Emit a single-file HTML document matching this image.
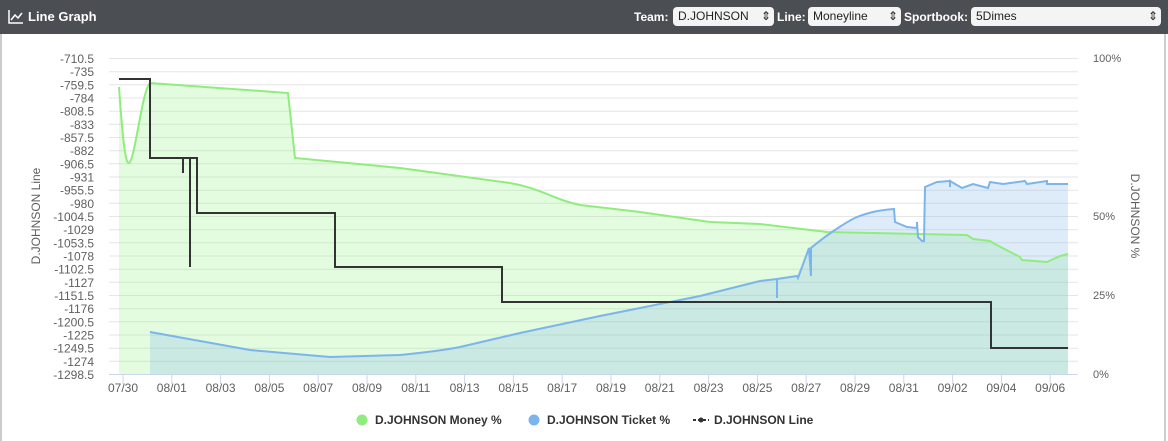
<!DOCTYPE html>
<html><head><meta charset="utf-8"><style>
body{margin:0;width:1168px;height:441px;background:#fff;font-family:"Liberation Sans",sans-serif;overflow:hidden}
.hdr{position:absolute;left:0;top:0;width:1168px;height:34px;background:#4b4e53;color:#fff;font-size:13px}
.sel{position:absolute;top:7px;height:19px;background:#f4f4f4;border-radius:4px;color:#222;font-size:12px;line-height:19px;padding-left:5px;box-sizing:border-box}
.lbl{position:absolute;top:10px;font-weight:bold;font-size:12px}
.frame{position:absolute;left:0;top:34px;width:1166px;height:407px;border-left:2px solid #ccc;border-right:2px solid #ccc;box-sizing:border-box}
</style></head><body>
<div class="hdr">
<svg width="16" height="14" style="position:absolute;left:8px;top:10px"><path d="M1,0 V13 H15" stroke="#fff" stroke-width="1.5" fill="none"/><path d="M3,10 L7,5 L10,8 L14,3" stroke="#fff" stroke-width="1.5" fill="none"/></svg>
<div style="position:absolute;left:28px;top:9px;font-weight:bold;font-size:13px">Line Graph</div>
<div class="lbl" style="left:634px">Team:</div>
<div class="sel" style="left:673px;width:101px">D.JOHNSON<span style="position:absolute;right:3px">⇕</span></div>
<div class="lbl" style="left:777px">Line:</div>
<div class="sel" style="left:808px;width:93px">Moneyline<span style="position:absolute;right:3px">⇕</span></div>
<div class="lbl" style="left:904px">Sportbook:</div>
<div class="sel" style="left:971px;width:190px">5Dimes<span style="position:absolute;right:3px">⇕</span></div>
</div>
<div class="frame"></div>
<svg width="1168" height="441" style="position:absolute;left:0;top:0" font-family="Liberation Sans, sans-serif">
<g stroke="#e6e6e6" stroke-width="1">
<line x1="109" x2="1078" y1="58.5" y2="58.5"/><line x1="109" x2="1078" y1="71.7" y2="71.7"/><line x1="109" x2="1078" y1="84.8" y2="84.8"/><line x1="109" x2="1078" y1="98" y2="98"/><line x1="109" x2="1078" y1="111.2" y2="111.2"/><line x1="109" x2="1078" y1="124.3" y2="124.3"/><line x1="109" x2="1078" y1="137.5" y2="137.5"/><line x1="109" x2="1078" y1="150.7" y2="150.7"/><line x1="109" x2="1078" y1="163.8" y2="163.8"/><line x1="109" x2="1078" y1="177" y2="177"/><line x1="109" x2="1078" y1="190.2" y2="190.2"/><line x1="109" x2="1078" y1="203.3" y2="203.3"/><line x1="109" x2="1078" y1="216.5" y2="216.5"/><line x1="109" x2="1078" y1="229.7" y2="229.7"/><line x1="109" x2="1078" y1="242.8" y2="242.8"/><line x1="109" x2="1078" y1="256" y2="256"/><line x1="109" x2="1078" y1="269.2" y2="269.2"/><line x1="109" x2="1078" y1="282.3" y2="282.3"/><line x1="109" x2="1078" y1="295.5" y2="295.5"/><line x1="109" x2="1078" y1="308.7" y2="308.7"/><line x1="109" x2="1078" y1="321.8" y2="321.8"/><line x1="109" x2="1078" y1="335" y2="335"/><line x1="109" x2="1078" y1="348.2" y2="348.2"/><line x1="109" x2="1078" y1="361.3" y2="361.3"/>
</g>
<path d="M119,87 C122,130 125,165 129,163 C135,160 142,90 150,83 L288,93 L295,158 L400,168 L510,183 C540,188 555,200 580,205 L640,212 L710,222 L760,224 L827,232 L967,235 L973,239 L990,241 L993,243 L1020,257 L1022,260 L1047,262 L1060,256 L1068,254 L1068,374 L119,374 Z" fill="rgba(144,238,126,0.25)"/>
<path d="M150,332 L250,350 L330,357 L400,355 C430,352 450,349 460,347 L520,333 L600,316 L700,296 L760,281 L797,276 L809,248 C830,232 850,220 857,217 C870,212 880,210 894,209 L895,222 L907,227 L917,228 L918,237 L922,241 L924,241 L925,187 L937,182 L950,181 L962,188 L973,184 L988,188 L990,182 L1003,184 L1025,181 L1027,184 L1047,181 L1047,184 L1068,184 L1068,374 L150,374 Z" fill="rgba(124,181,236,0.25)"/>
<path d="M119,87 C122,130 125,165 129,163 C135,160 142,90 150,83 L288,93 L295,158 L400,168 L510,183 C540,188 555,200 580,205 L640,212 L710,222 L760,224 L827,232 L967,235 L973,239 L990,241 L993,243 L1020,257 L1022,260 L1047,262 L1060,256 L1068,254" fill="none" stroke="#90ed7d" stroke-width="2"/>
<path d="M150,332 L250,350 L330,357 L400,355 C430,352 450,349 460,347 L520,333 L600,316 L700,296 L760,281 L777,279 L777,298 L777,279 L797,276 L798,278 L809,248 L811,276 L811,248 C830,232 850,220 857,217 C870,212 880,210 894,209 L895,222 L907,227 L917,228 L917,222 L918,237 L922,241 L924,241 L925,187 L937,182 L950,181 L950,187 L950,181 L962,188 L973,184 L988,188 L990,182 L1003,184 L1025,181 L1027,184 L1047,181 L1047,184 L1068,184" fill="none" stroke="#7cb5ec" stroke-width="2"/>
<path d="M119,79 L150,79 L150,158 L183,158 L183,173 L183,158 L190,158 L190,267 L190,158 L197,158 L197,213 L335,213 L335,267 L502,267 L502,302 L991,302 L991,348 L1068,348" fill="none" stroke="#333" stroke-width="2"/>
<line x1="109" x2="1078" y1="374.5" y2="374.5" stroke="#ccd6eb"/>
<g stroke="#ccd6eb"><line x1="123" x2="123" y1="374" y2="384"/><line x1="171.8" x2="171.8" y1="374" y2="384"/><line x1="220.6" x2="220.6" y1="374" y2="384"/><line x1="269.4" x2="269.4" y1="374" y2="384"/><line x1="318.2" x2="318.2" y1="374" y2="384"/><line x1="367" x2="367" y1="374" y2="384"/><line x1="415.8" x2="415.8" y1="374" y2="384"/><line x1="464.6" x2="464.6" y1="374" y2="384"/><line x1="513.4" x2="513.4" y1="374" y2="384"/><line x1="562.2" x2="562.2" y1="374" y2="384"/><line x1="611" x2="611" y1="374" y2="384"/><line x1="659.8" x2="659.8" y1="374" y2="384"/><line x1="708.6" x2="708.6" y1="374" y2="384"/><line x1="757.4" x2="757.4" y1="374" y2="384"/><line x1="806.2" x2="806.2" y1="374" y2="384"/><line x1="855" x2="855" y1="374" y2="384"/><line x1="903.8" x2="903.8" y1="374" y2="384"/><line x1="952.6" x2="952.6" y1="374" y2="384"/><line x1="1001.4" x2="1001.4" y1="374" y2="384"/><line x1="1050.2" x2="1050.2" y1="374" y2="384"/></g>
<g font-size="12" fill="#606060" text-anchor="middle">
<text x="123" y="392">07/30</text><text x="171.8" y="392">08/01</text><text x="220.6" y="392">08/03</text><text x="269.4" y="392">08/05</text><text x="318.2" y="392">08/07</text><text x="367" y="392">08/09</text><text x="415.8" y="392">08/11</text><text x="464.6" y="392">08/13</text><text x="513.4" y="392">08/15</text><text x="562.2" y="392">08/17</text><text x="611" y="392">08/19</text><text x="659.8" y="392">08/21</text><text x="708.6" y="392">08/23</text><text x="757.4" y="392">08/25</text><text x="806.2" y="392">08/27</text><text x="855" y="392">08/29</text><text x="903.8" y="392">08/31</text><text x="952.6" y="392">09/02</text><text x="1001.4" y="392">09/04</text><text x="1050.2" y="392">09/06</text>
</g>
<g font-size="12" fill="#606060" text-anchor="end">
<text x="94" y="63">-710.5</text><text x="94" y="76.2">-735</text><text x="94" y="89.3">-759.5</text><text x="94" y="102.5">-784</text><text x="94" y="115.7">-808.5</text><text x="94" y="128.8">-833</text><text x="94" y="142">-857.5</text><text x="94" y="155.2">-882</text><text x="94" y="168.3">-906.5</text><text x="94" y="181.5">-931</text><text x="94" y="194.7">-955.5</text><text x="94" y="207.8">-980</text><text x="94" y="221">-1004.5</text><text x="94" y="234.2">-1029</text><text x="94" y="247.3">-1053.5</text><text x="94" y="260.5">-1078</text><text x="94" y="273.7">-1102.5</text><text x="94" y="286.8">-1127</text><text x="94" y="300">-1151.5</text><text x="94" y="313.2">-1176</text><text x="94" y="326.3">-1200.5</text><text x="94" y="339.5">-1225</text><text x="94" y="352.7">-1249.5</text><text x="94" y="365.8">-1274</text><text x="94" y="379">-1298.5</text>
</g>
<g font-size="11" fill="#606060"><text x="1093" y="62">100%</text><text x="1093" y="220">50%</text><text x="1093" y="299">25%</text><text x="1093" y="378">0%</text></g>
<text transform="translate(40,216) rotate(-90)" font-size="12" fill="#606060" text-anchor="middle">D.JOHNSON Line</text>
<text transform="translate(1131,216) rotate(90)" font-size="12" fill="#606060" text-anchor="middle">D.JOHNSON %</text>
<g font-size="12" font-weight="bold" fill="#333">
<circle cx="362" cy="420" r="5.5" fill="#90ed7d"/><text x="375" y="424">D.JOHNSON Money %</text>
<circle cx="534" cy="420" r="5.5" fill="#7cb5ec"/><text x="547" y="424">D.JOHNSON Ticket %</text>
<line x1="693" x2="709" y1="420" y2="420" stroke="#333" stroke-width="2" stroke-dasharray="3,2"/><circle cx="701" cy="420" r="2.5" fill="#333"/><text x="714" y="424">D.JOHNSON Line</text>
</g>
</svg>
</body></html>
